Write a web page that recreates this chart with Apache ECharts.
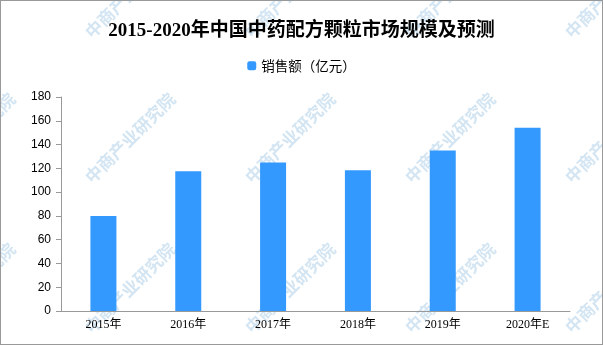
<!DOCTYPE html>
<html><head><meta charset="utf-8">
<script src="https://cdn.jsdelivr.net/npm/echarts@6/dist/echarts.min.js"></script>
<style>html,body{margin:0;padding:0;background:#fff}#c{width:601px;height:343px;border:1px solid #999;}</style>
</head><body><div id="c"></div>
<script>
const categories = ['2015年','2016年','2017年','2018年','2019年','2020年E'];
const sales = [80, 117.5, 125, 118.3, 135, 154.2];
const yTicks = [0,20,40,60,80,100,120,140,160,180];
const titleText = '2015-2020年中国中药配方颗粒市场规模及预测';
const legendName = '销售额（亿元）';

const chart = echarts.init(document.getElementById('c'));
const wm = [];
const xs = [-67, 93, 253, 413, 573];
const ys = [40, 185, 335];
ys.forEach((y,ri)=>{
  xs.forEach(x=>{
    const xx = x + (ri===1 ? 0 : 0);
    wm.push({type:'text', x:xx, y:y, rotation:Math.PI/4, z:-10, silent:true,
      style:{text:'中商产业研究院', fill:'#d3e5f2', font:'bold 17px "Noto Sans CJK SC"', textVerticalAlign:'bottom'}});
  });
});
chart.setOption({
  animation:false,
  title:{text:titleText, left:'center', top:16,
    textStyle:{fontSize:19, fontWeight:'bold', color:'#000', fontFamily:'"Liberation Serif","Noto Sans CJK SC"'}},
  legend:{data:[legendName], top:53, left:'center', itemWidth:9, itemHeight:9, itemGap:5,
    textStyle:{fontSize:13.5, color:'#000', fontFamily:'"Noto Sans CJK SC"'}},
  graphic:wm,
  grid:{left:60, right:32, top:96, bottom:33},
  xAxis:{type:'category', data:categories,
    axisLine:{lineStyle:{color:'#999'}}, axisTick:{show:false},
    axisLabel:{color:'#000', fontSize:12, margin:8, fontFamily:'"Liberation Serif","Noto Sans CJK SC"'}},
  yAxis:{type:'value', min:0, max:180, interval:20,
    axisLine:{show:true, lineStyle:{color:'#999'}}, axisTick:{show:true, length:5, lineStyle:{color:'#999'}},
    splitLine:{show:false},
    axisLabel:{color:'#000', fontSize:12, margin:10, fontFamily:'"Liberation Sans",Arial'}},
  series:[{name:legendName, type:'bar', data:sales, barWidth:26, itemStyle:{color:'#3399ff'}}]
});
</script></body></html>
